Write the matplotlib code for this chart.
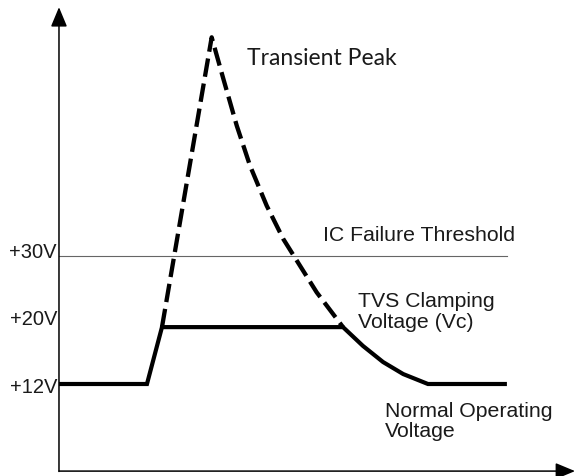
import matplotlib
matplotlib.use("Agg")
import matplotlib.pyplot as plt

# time (arbitrary units, 0..100 along the x axis) and voltage (V)
t_normal = [0, 17.05, 19.96, 55.04, 58.9, 62.8, 66.7, 71.5, 86.8]
v_normal = [12, 12, 20, 20, 17.36, 15.09, 13.4, 12, 12]

t_spike = [19.96, 29.59, 31.86, 34.45, 37.02, 40.25, 43.47, 46.70, 49.94, 55.04]
v_spike = [20, 60.76, 54.90, 48.33, 42.70, 37.08, 32.39, 28.64, 24.89, 20.0]

threshold_v = 30
threshold_end = 86.8

level_labels = ["+30V", "+20V", "+12V"]
level_label_v = [29.85, 20.4, 10.9]

fig = plt.figure(figsize=(5.76, 4.77), dpi=100)
ax = fig.add_axes([0, 0, 1, 1])
ax.set_xlim(-11.43, 100.19)
ax.set_ylim(-0.94, 66.15)
ax.axis("off")

txt = "#1a1a1a"

# axes with arrow heads
arrow = dict(arrowstyle="-|>,head_length=1.2,head_width=0.5", color="black",
             lw=1.1, shrinkA=0, shrinkB=0, mutation_scale=10)
ax.annotate("", xy=(0, 65.0), xytext=(0, -0.3), arrowprops=arrow)
ax.annotate("", xy=(100, -0.25), xytext=(0, -0.25), arrowprops=arrow)

# IC failure threshold
ax.plot([0, threshold_end], [threshold_v, threshold_v], color="#666666", lw=0.8)

# transient without protection (dashed)
ax.plot(t_spike, v_spike, color="black", lw=3.1, linestyle=(0, (4.3, 1.6)),
        solid_joinstyle="miter")
# clamped voltage (solid)
ax.plot(t_normal, v_normal, color="black", lw=3, solid_joinstyle="miter",
        solid_capstyle="butt")

fs = 15.3
fam = ["Liberation Sans", "DejaVu Sans"]
for lab, v in zip(level_labels, level_label_v):
    ax.text(-0.4, v, lab, ha="right", va="baseline", fontsize=14.5, family=fam, color=txt)

ax.text(36.4, 57.0, "Transient Peak", ha="left", va="baseline", fontsize=16.5,
        family=["Lato", "Liberation Sans", "DejaVu Sans"], color=txt)
ax.text(51.2, 32.3, "IC Failure Threshold", ha="left", va="baseline", fontsize=fs,
        family=fam, color=txt)
ax.text(57.9, 23.0, "TVS Clamping", ha="left", va="baseline", fontsize=fs,
        family=fam, color=txt)
ax.text(57.9, 20.0, "Voltage (Vc)", ha="left", va="baseline", fontsize=fs,
        family=fam, color=txt)
ax.text(63.2, 7.5, "Normal Operating", ha="left", va="baseline", fontsize=fs,
        family=fam, color=txt)
ax.text(63.2, 4.7, "Voltage", ha="left", va="baseline", fontsize=fs,
        family=fam, color=txt)

fig.savefig("out.png", dpi=100)
